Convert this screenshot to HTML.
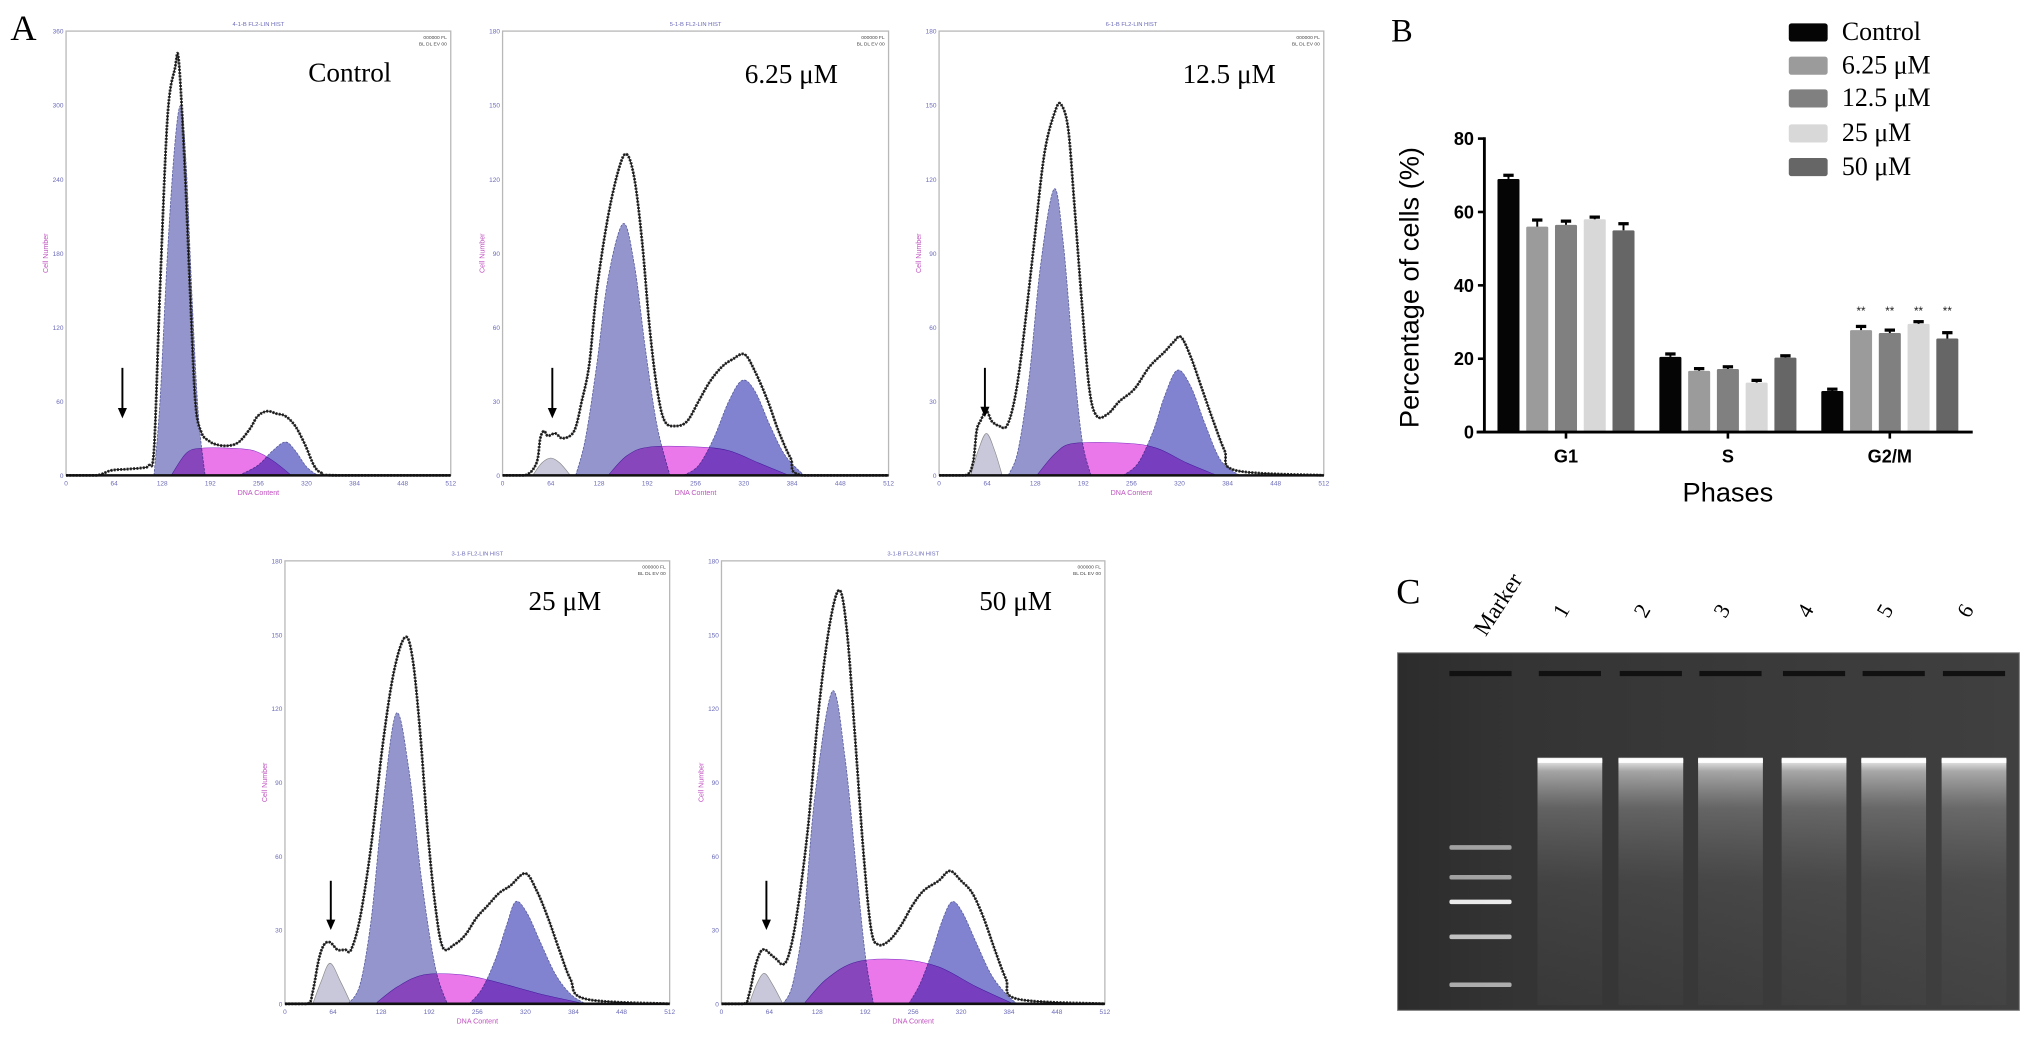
<!DOCTYPE html>
<html><head><meta charset="utf-8"><style>
html,body{margin:0;padding:0;background:#fff;}
svg{display:block;}
.serif{font-family:"Liberation Serif","DejaVu Serif",serif;}
.sans{font-family:"Liberation Sans","DejaVu Sans",sans-serif;}
</style></head><body>
<svg id="fig" width="2031" height="1044" viewBox="0 0 1568 806" preserveAspectRatio="none" xmlns="http://www.w3.org/2000/svg">
<rect x="0" y="0" width="1568" height="806" fill="#fff"/>
<text class="serif" x="8" y="31" font-size="28">A</text>
<text class="serif" x="1074" y="32" font-size="25">B</text>
<text class="serif" x="1078" y="466" font-size="28">C</text>
<g id="flow"></g>
<g id="bars"></g>
<g id="gel"></g>
</svg>
<script>
// ---------- Flow cytometry histogram data (channel, cell count) ----------
const ctrlRawX=[0,40,60,80,100,110,117,125,135,145,150,158,165,172,180,190,200,215,230,245,255,268,280,292,305,318,330,340,360,512];
const ctrlRawY=[0,0,4,5,6,8,20,150,290,330,336,250,150,60,35,28,25,24,27,38,48,52,50,48,40,25,8,2,0,0];
const ctrlG1X=[117,125,135,145,153,160,168,176,185];
const ctrlG1Y=[0,60,180,270,299,250,140,50,0];
const ctrlSX=[140,160,180,220,250,275,300];
const ctrlSY=[0,18,22,22,20,12,0];
const ctrlG2X=[230,255,275,292,305,320,335];
const ctrlG2Y=[0,8,20,27,20,7,0];
const ctrlApX=[];
const ctrlApY=[];

const d625RawX=[0,30,45,50,55,60,70,80,95,105,115,125,140,155,165,175,185,195,205,215,230,245,260,275,291,305,321,335,352,366,382,398,512];
const d625RawY=[0,0,5,15,18,16,17,15,18,30,45,75,105,125,130,120,95,60,35,22,20,22,30,38,44,47,49,42,30,18,7,0,0];
const d625G1X=[97,110,125,140,160,175,190,205,222];
const d625G1Y=[0,15,45,80,102,85,50,20,0];
const d625SX=[140,165,195,260,300,340,380];
const d625SY=[0,8,11.5,11.5,10,5,0];
const d625G2X=[240,260,280,300,318,335,355,375,400];
const d625G2Y=[0,4,15,30,38.5,34,20,8,0];
const d625ApX=[40,52,64,76,90];
const d625ApY=[0,5,7,5,0];

const d125RawX=[0,35,45,50,55,63,70,80,90,100,110,125,140,155,163,172,180,190,200,210,225,240,260,280,300,312,322,335,350,365,380,395,512];
const d125RawY=[0,0,5,18,22,26,22,20,20,30,50,90,130,148,150,140,110,70,35,24,25,30,35,44,50,54,56,48,35,22,10,2,0];
const d125G1X=[92,105,120,135,153,165,178,190,202];
const d125G1Y=[0,10,40,85,116,95,50,15,0];
const d125SX=[130,155,180,250,290,330,370];
const d125SY=[0,9,13,13,11,5,0];
const d125G2X=[245,265,285,300,317,335,355,375,400];
const d125G2Y=[0,5,18,32,42.6,36,20,6,0];
const d125ApX=[42,52,63,74,84];
const d125ApY=[0,10,17,10,0];

const d25RawX=[0,30,37,45,52,60,70,80,88,100,115,130,145,160,170,180,190,200,210,225,240,255,270,285,300,320,335,350,365,380,400,512];
const d25RawY=[0,0,5,18,24,25,22,22,22,35,65,105,135,149,140,110,70,40,23,24,28,35,40,45,48,53,46,35,22,10,2,0];
const d25G1X=[84,100,115,130,148,165,182,200,216];
const d25G1Y=[0,8,35,80,118,95,50,15,0];
const d25SX=[120,150,185,235,280,340,400];
const d25SY=[0,7,11.8,11.8,9,4,0];
const d25G2X=[245,262,280,295,307,322,340,360,380,400];
const d25G2Y=[0,6,18,32,41.5,37,25,12,4,0];
const d25ApX=[37,48,60,74,88];
const d25ApY=[0,9,16.5,9,0];

const d50RawX=[0,30,37,45,52,58,66,74,82,90,100,115,130,145,158,168,178,190,200,210,225,240,255,270,290,305,320,335,350,365,380,395,512];
const d50RawY=[0,0,4,15,21,22,20,18,16,20,35,70,120,155,168,150,110,60,30,24,26,32,40,46,50,54,50,45,35,22,10,2,0];
const d50G1X=[82,95,110,125,148,165,180,192,203];
const d50G1Y=[0,8,35,85,127,100,55,20,0];
const d50SX=[110,140,180,240,290,340,390];
const d50SY=[0,10,17,18,15,7,0];
const d50G2X=[250,265,280,295,308,322,340,360,380,395];
const d50G2Y=[0,8,20,34,41.5,37,25,12,4,0];
const d50ApX=[37,47,57,68,82];
const d50ApY=[0,8,12.4,8,0];

const xTickLabels=[0,64,128,192,256,320,384,448,512];
const ctrlYTicks=[0,60,120,180,240,300,360];
const drugYTicks=[0,30,60,90,120,150,180];
const flowTitles=["Control","6.25 μM","12.5 μM","25 μM","50 μM"];

// ---------- Bar chart data ----------
const phases=["G1","S","G2/M"];
const groups=["Control","6.25 μM","12.5 μM","25 μM","50 μM"];
const g1Values=[69,56,56.5,58,55];
const sValues=[20.5,16.7,17.2,13.5,20.3];
const g2mValues=[11.2,27.8,27,29.5,25.5];
const g1Err=[1,1.8,1,0.6,1.8];
const sErr=[0.8,0.6,0.6,0.6,0.5];
const g2mErr=[0.5,1,0.8,0.6,1.6];
const yTicksB=[0,20,40,60,80];
const sigMarks=["","**","**","**","**"];

// ---------- Gel ----------
const laneLabels=["1","2","3","4","5","6"];

const NS="http://www.w3.org/2000/svg";
function mk(tag,attrs,parent){const e=document.createElementNS(NS,tag);for(const k in attrs)e.setAttribute(k,attrs[k]);if(parent)parent.appendChild(e);return e;}

function smoothPath(pts,base){
  if(pts.length<2)return "";
  const cl=y=>Math.min(base,y);
  let d="M"+pts[0][0].toFixed(2)+","+pts[0][1].toFixed(2);
  for(let i=0;i<pts.length-1;i++){
    const p0=pts[Math.max(0,i-1)],p1=pts[i],p2=pts[i+1],p3=pts[Math.min(pts.length-1,i+2)];
    const c1x=p1[0]+(p2[0]-p0[0])/6,c1y=cl(p1[1]+(p2[1]-p0[1])/6);
    const c2x=p2[0]-(p3[0]-p1[0])/6,c2y=cl(p2[1]-(p3[1]-p1[1])/6);
    d+=" C"+c1x.toFixed(2)+","+c1y.toFixed(2)+" "+c2x.toFixed(2)+","+c2y.toFixed(2)+" "+p2[0].toFixed(2)+","+p2[1].toFixed(2);
  }
  return d;
}

const flowG=document.getElementById('flow');
function drawPanel(idx,x0,y0,w,h,ymax,yTicks,raw,g1,s,g2,ap,arrow,label){
  const g=mk('g',{},flowG);
  
  
  const base=y0+h;
  const xs=c=>x0+c/512*w;
  const ys=v=>Math.min(base,base-v/ymax*h);
  const frame=mk('rect',{x:x0,y:y0,width:w,height:h,fill:'#fff',stroke:'#b8b8b8','stroke-width':1},g);
  
  
  const area=(X,Y,fill,extra,name)=>{
    if(!X.length)return;
    const pts=X.map((c,i)=>[xs(c),ys(Y[i])]);
    const p=mk('path',Object.assign({d:smoothPath(pts,base)+" L"+xs(X[X.length-1])+","+base+" L"+xs(X[0])+","+base+" Z",fill:fill},extra||{}),g);
    
    
  };
  area(ap[0],ap[1],'#c8c8da',{stroke:'#888','stroke-width':0.5},'apoptotic-peak');
  area(g1[0],g1[1],'#9395cc',{stroke:'#555a9a','stroke-width':0.6,'stroke-dasharray':'2 1'},'g1-peak');
  area(g2[0],g2[1],'#8283d0',{stroke:'#555a9a','stroke-width':0.6,'stroke-dasharray':'2 1'},'g2-peak');
  area(s[0],s[1],'#ea78ea',{style:'mix-blend-mode:multiply',stroke:'#7a30c0','stroke-width':0.4},'s-phase');
  const rpts=raw[0].map((c,i)=>[xs(c),ys(raw[1][i])]);
  const r1=mk('path',{d:smoothPath(rpts,base),fill:'none',stroke:'#333','stroke-width':2.2,'stroke-dasharray':'1.5 1','stroke-linejoin':'round'},g);
  
  
  const r2=mk('path',{d:smoothPath(rpts,base),fill:'none',stroke:'#111','stroke-width':0.7},g);
  
  
  const ax=mk('line',{x1:x0,y1:base,x2:x0+w,y2:base,stroke:'#111','stroke-width':2},g);
  
  
  xTickLabels.forEach(t=>{
    const tx=mk('text',{x:xs(t),y:base+8,'font-size':5,'text-anchor':'middle',fill:'#6a6ab8',class:'sans'},g);
    tx.textContent=t;
    
    
  });
  yTicks.forEach(t=>{
    const ty=mk('text',{x:x0-2,y:ys(t)+2,'font-size':5,'text-anchor':'end',fill:'#6a6ab8',class:'sans'},g);
    ty.textContent=t;
    
    
  });
  const xt=mk('text',{x:x0+w/2,y:base+15,'font-size':5.5,'text-anchor':'middle',fill:'#c050c0',class:'sans'},g);
  xt.textContent='DNA Content';
  
  
  const yt=mk('text',{x:0,y:0,'font-size':5.5,'text-anchor':'middle',fill:'#c050c0',class:'sans',transform:'translate('+(x0-14)+','+(y0+h/2)+') rotate(-90)'},g);
  yt.textContent='Cell Number';
  
  
  const tt=mk('text',{x:x0+w/2,y:y0-4,'font-size':4.5,'text-anchor':'middle',fill:'#6a6ab8',class:'sans'},g);
  tt.textContent=(idx<3?(idx+4):3)+'-1-B FL2-LIN HIST';
  
  
  const c1=mk('text',{x:x0+w-3,y:y0+6,'font-size':3.8,'text-anchor':'end',fill:'#444',class:'sans'},g);
  c1.textContent='000000 FL';
  
  
  const c2=mk('text',{x:x0+w-3,y:y0+11,'font-size':3.8,'text-anchor':'end',fill:'#444',class:'sans'},g);
  c2.textContent='BL DL EV 00';
  
  
  const lb=mk('text',{x:label[0],y:label[1],'font-size':21,class:'serif',fill:'#000'},g);
  lb.textContent=flowTitles[idx];
  
  
  const ax1=xs(arrow[0]);
  const al=mk('line',{x1:ax1,y1:base-arrow[1],x2:ax1,y2:base-arrow[2]-6,stroke:'#000','stroke-width':1.5},g);
  
  
  const ah=mk('path',{d:'M'+(ax1-3.5)+','+(base-arrow[2]-8)+' L'+(ax1+3.5)+','+(base-arrow[2]-8)+' L'+ax1+','+(base-arrow[2])+' Z',fill:'#000'},g);
  
  
}
drawPanel(0,51,24,297,343,360,ctrlYTicks,[ctrlRawX,ctrlRawY],[ctrlG1X,ctrlG1Y],[ctrlSX,ctrlSY],[ctrlG2X,ctrlG2Y],[ctrlApX,ctrlApY],[75,83,44],[238,63]);
drawPanel(1,388,24,298,343,180,drugYTicks,[d625RawX,d625RawY],[d625G1X,d625G1Y],[d625SX,d625SY],[d625G2X,d625G2Y],[d625ApX,d625ApY],[66,83,44],[575,64]);
drawPanel(2,725,24,297,343,180,drugYTicks,[d125RawX,d125RawY],[d125G1X,d125G1Y],[d125SX,d125SY],[d125G2X,d125G2Y],[d125ApX,d125ApY],[61,83,45],[913,64]);
drawPanel(3,220,433,297,342,180,drugYTicks,[d25RawX,d25RawY],[d25G1X,d25G1Y],[d25SX,d25SY],[d25G2X,d25G2Y],[d25ApX,d25ApY],[61,95,57],[408,471]);
drawPanel(4,557,433,296,342,180,drugYTicks,[d50RawX,d50RawY],[d50G1X,d50G1Y],[d50SX,d50SY],[d50G2X,d50G2Y],[d50ApX,d50ApY],[60,95,57],[756,471]);

// ---------- Bar chart ----------
const bg=document.getElementById('bars');
const bx0=1146,by0=333.6,by80=107,bxEnd=1523;
const yB=v=>by0-(v/80)*(by0-by80);
const groupCenters=[1209,1334,1459];
const barW=17,pitch=22.2;
const barColors=["#050505","#9b9b9b","#808080","#d8d8d8","#666666"];
const allVals=[g1Values,sValues,g2mValues];
const allErr=[g1Err,sErr,g2mErr];
phases.forEach((ph,pi)=>{
  groups.forEach((gr,gi)=>{
    const v=allVals[pi][gi],e=allErr[pi][gi];
    const cx=groupCenters[pi]+(gi-2)*pitch;
    const r=mk('rect',{x:cx-barW/2,y:yB(v),width:barW,height:by0-yB(v),fill:barColors[gi],rx:1},bg);
    
    
    const eb=mk('line',{x1:cx,y1:yB(v+e),x2:cx,y2:yB(v),stroke:'#000','stroke-width':1.5},bg);
    
    
    const ec=mk('line',{x1:cx-4,y1:yB(v+e),x2:cx+4,y2:yB(v+e),stroke:'#000','stroke-width':2.5},bg);
    
    
    if(pi===2&&sigMarks[gi]){
      const st=mk('text',{x:cx,y:yB(33)+3,'font-size':9,'text-anchor':'middle',class:'sans',fill:'#222'},bg);
      st.textContent=sigMarks[gi];
      
      
    }
  });
  const tk=mk('line',{x1:groupCenters[pi],y1:by0,x2:groupCenters[pi],y2:by0+5,stroke:'#000','stroke-width':2},bg);
  
  
  const tl=mk('text',{x:groupCenters[pi],y:357,'font-size':14,'font-weight':'bold','text-anchor':'middle',class:'sans'},bg);
  tl.textContent=ph;
  
  
});
const yAx=mk('line',{x1:bx0,y1:by80-1,x2:bx0,y2:by0+1,stroke:'#000','stroke-width':2.2},bg);


const xAx=mk('line',{x1:bx0-6,y1:by0,x2:bxEnd,y2:by0,stroke:'#000','stroke-width':2.2},bg);


yTicksB.forEach(t=>{
  const l=mk('line',{x1:bx0-5,y1:yB(t),x2:bx0,y2:yB(t),stroke:'#000','stroke-width':2},bg);
  
  
  const tx=mk('text',{x:bx0-8,y:yB(t)+5,'font-size':14,'font-weight':'bold','text-anchor':'end',class:'sans'},bg);
  tx.textContent=t;
  
  
});
const ytB=mk('text',{x:0,y:0,'font-size':21,'text-anchor':'middle',class:'sans',transform:'translate(1095,222) rotate(-90)'},bg);
ytB.textContent='Percentage of cells (%)';


const xtB=mk('text',{x:1334,y:387,'font-size':21,'text-anchor':'middle',class:'sans'},bg);
xtB.textContent='Phases';


const legY=[25,50.7,76,103,129];
groups.forEach((gr,gi)=>{
  const r=mk('rect',{x:1381,y:legY[gi]-7,width:30,height:14,rx:2,fill:barColors[gi]},bg);
  
  
  const t=mk('text',{x:1422,y:legY[gi]+6,'font-size':20,class:'serif'},bg);
  t.textContent=gr;
  
  
});

// ---------- Gel ----------
const gg=document.getElementById('gel');
const defs=mk('defs',{},gg);
const lg=mk('linearGradient',{id:'smear',x1:0,y1:0,x2:0,y2:1},defs);
mk('stop',{offset:'0','stop-color':'#fff','stop-opacity':'0.95'},lg);
mk('stop',{offset:'0.05','stop-color':'#eee','stop-opacity':'0.6'},lg);
mk('stop',{offset:'0.2','stop-color':'#ccc','stop-opacity':'0.3'},lg);
mk('stop',{offset:'0.5','stop-color':'#aaa','stop-opacity':'0.12'},lg);
mk('stop',{offset:'1','stop-color':'#888','stop-opacity':'0.05'},lg);
const gb=mk('linearGradient',{id:'gelbg',x1:0,y1:0,x2:1,y2:0},defs);
mk('stop',{offset:'0','stop-color':'#2c2c2c'},gb);
mk('stop',{offset:'0.2','stop-color':'#343434'},gb);
mk('stop',{offset:'1','stop-color':'#404040'},gb);
const gr=mk('rect',{x:1079,y:504,width:480,height:276,fill:'url(#gelbg)',stroke:'#777','stroke-width':0.8},gg);


const laneCenters=[1212,1274.5,1336,1400.5,1462,1524];
const wellM=mk('rect',{x:1119,y:518,width:48,height:4,fill:'#111'},gg);


laneLabels.forEach((lb,i)=>{
  const cx=laneCenters[i];
  const w=mk('rect',{x:cx-24,y:518,width:48,height:4,fill:'#111'},gg);
  
  
  const sm=mk('rect',{x:cx-25,y:586,width:50,height:190,fill:'url(#smear)'},gg);
  
  
  const bd=mk('rect',{x:cx-25,y:585,width:50,height:4,fill:'#fff',opacity:0.95},gg);
  
  
  const t=mk('text',{x:0,y:0,'font-size':17,class:'serif',transform:'translate('+(cx-4)+',478) rotate(-60)'},gg);
  t.textContent=lb;
  
  
});
const markerY=[654,677,696,723,760];
const markerOp=[0.55,0.55,0.9,0.7,0.6];
markerY.forEach((y,i)=>{
  const b=mk('rect',{x:1119,y:y-1.5,width:48,height:3.5,fill:'#fff',opacity:markerOp[i],rx:1.5},gg);
  
  
});
const mt=mk('text',{x:0,y:0,'font-size':18,class:'serif',transform:'translate(1147,492) rotate(-57)'},gg);
mt.textContent='Marker';


</script>
</body></html>
